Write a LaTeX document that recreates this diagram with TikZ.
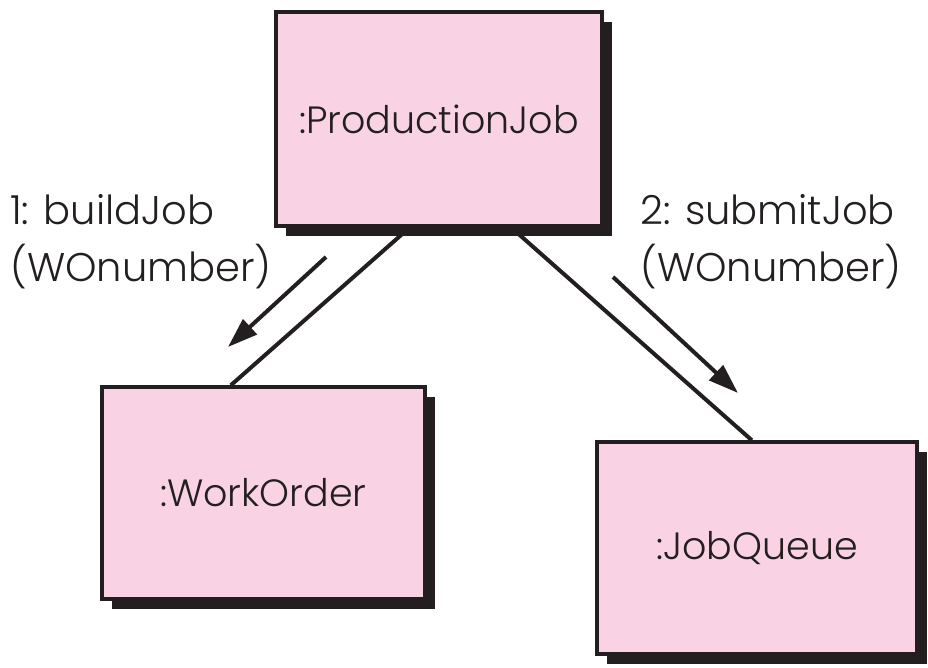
\documentclass[tikz,border=0pt]{standalone}
\usepackage{fontspec}
\setmainfont{Poppins Light}
\usetikzlibrary{arrows.meta,calc,shadows,backgrounds}
\definecolor{boxpink}{RGB}{249,211,227}
\definecolor{ink}{RGB}{35,31,32}
\begin{document}
\begin{tikzpicture}[x=1pt,y=-1pt,
  objbox/.style={draw=ink,line width=3.5pt,fill=boxpink,
    drop shadow={shadow xshift=10pt,shadow yshift=-10pt,fill=ink,opacity=1},
    inner sep=0pt,font=\fontsize{38}{44}\selectfont,text=ink},
  link/.style={draw=ink,line width=4pt},
  msg/.style={draw=ink,line width=4pt,-{Triangle[length=30pt,width=20pt]}},
  lbl/.style={font=\fontsize{40}{57}\selectfont,text=ink,align=left,inner sep=0pt}]
\useasboundingbox (0,0) rectangle (928,667);
% objects
\node[objbox,minimum width=326pt,minimum height=214pt] (pj) at (439,119) {:ProductionJob};
\node[objbox,minimum width=323pt,minimum height=212pt] (wo) at (263.5,493) {:WorkOrder};
\node[objbox,minimum width=320pt,minimum height=212pt] (jq) at (757,548) {:JobQueue};
% links between objects, kept behind the boxes
\coordinate (pjL) at ($(pj.south west)!0.41!(pj.south east)$);
\coordinate (pjR) at ($(pj.south west)!0.72!(pj.south east)$);
\coordinate (woT) at ($(wo.north west)!0.40!(wo.north east)$);
\coordinate (jqT) at ($(jq.north west)!0.484!(jq.north east)$);
\begin{scope}[on background layer]
\draw[link] (pjL) -- (woT);
\draw[link] (pjR) -- (jqT);
\end{scope}
% messages
\coordinate (m1s) at (326,257);
\coordinate (m1e) at (228,347);
\coordinate (m2s) at (613,277);
\coordinate (m2e) at (738,393);
\draw[msg] (m1s) -- (m1e);
\draw[msg] (m2s) -- (m2e);
\node[lbl,anchor=north west] (l1) at (10,194) {1: buildJob\\(WOnumber)};
\node[lbl,anchor=north west] (l2) at (640,194) {2: submitJob\\(WOnumber)};
\end{tikzpicture}
\end{document}
